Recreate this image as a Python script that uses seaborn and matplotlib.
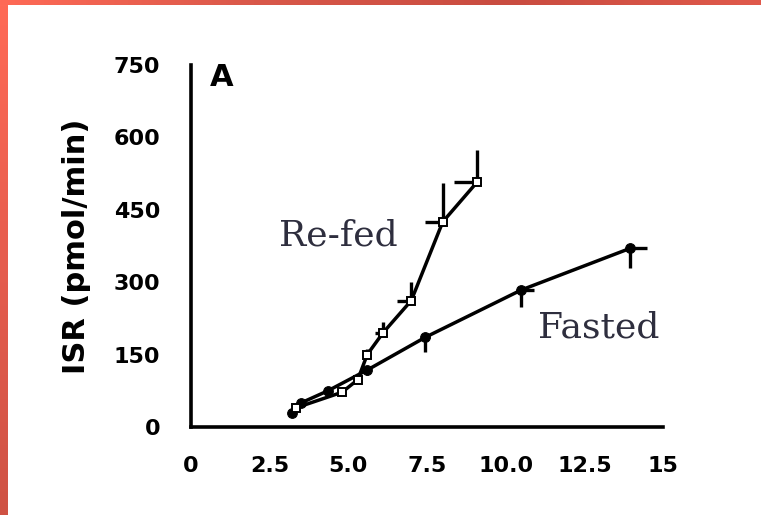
import numpy as np
import pandas as pd
import matplotlib
matplotlib.use("Agg")
import matplotlib.pyplot as plt
from matplotlib.colors import LinearSegmentedColormap
import seaborn as sns

# ---- data ----
refed_x = [3.35, 4.8, 5.3, 5.6, 6.1, 7.0, 8.0, 9.1]
refed_y = [40, 72, 98, 150, 195, 262, 425, 508]
refed_xerr_left = [0, 0, 0, 0.15, 0.25, 0.45, 0.55, 0.75]
refed_yerr_up = [0, 0, 0, 12, 22, 38, 80, 66]

fasted_x = [3.2, 3.5, 4.35, 5.6, 7.45, 10.5, 13.95]
fasted_y = [30, 50, 75, 118, 186, 284, 370]
fasted_xerr_right = [0, 0, 0, 0.1, 0.15, 0.4, 0.55]
fasted_yerr_down = [0, 0, 0, 10, 30, 35, 40]

x_ticks = [0, 2.5, 5.0, 7.5, 10.0, 12.5, 15]
x_ticklabels = ["0", "2.5", "5.0", "7.5", "10.0", "12.5", "15"]
y_ticks = [0, 150, 300, 450, 600, 750]
y_label = "ISR (pmol/min)"
panel_label = "A"
series_names = ["Re-fed", "Fasted"]

sns.set_style("white")
plt.rcParams["font.family"] = ["DejaVu Sans"]
plt.rcParams["text.color"] = "black"

W, H = 761, 515
fig = plt.figure(figsize=(W / 100, H / 100), dpi=100)
fig.patch.set_facecolor("white")

# decorative red frame (top and left)
cmap_top = LinearSegmentedColormap.from_list("t", ["#ff6a56", "#d9584a", "#c94c40", "#e0594b"])
cmap_left = LinearSegmentedColormap.from_list("l", ["#ff6a56", "#e65d4e", "#cf5244"])
ax_top = fig.add_axes([0, 1 - 5 / H, 1, 5 / H])
ax_top.imshow(np.linspace(0, 1, 256)[None, :], aspect="auto", cmap=cmap_top)
ax_top.set_axis_off()
ax_left = fig.add_axes([0, 0, 8 / W, 1 - 5 / H])
ax_left.imshow(np.linspace(0, 1, 256)[:, None], aspect="auto", cmap=cmap_left)
ax_left.set_axis_off()

# main axes
x0, x1 = 191, 663
y0, y1 = 427, 65
ax = fig.add_axes([x0 / W, (H - y0) / H, (x1 - x0) / W, (y0 - y1) / H])
ax.set_facecolor("none")

df_r = pd.DataFrame({"x": refed_x, "y": refed_y})
df_f = pd.DataFrame({"x": fasted_x, "y": fasted_y})

lw = 2.5
# error bars (one-sided)
ax.errorbar(refed_x, refed_y,
            xerr=[refed_xerr_left, [0] * len(refed_x)],
            yerr=[[0] * len(refed_y), refed_yerr_up],
            fmt="none", ecolor="black", elinewidth=2.4, capsize=0, zorder=2)
ax.errorbar(fasted_x, fasted_y,
            xerr=[[0] * len(fasted_x), fasted_xerr_right],
            yerr=[fasted_yerr_down, [0] * len(fasted_y)],
            fmt="none", ecolor="black", elinewidth=2.4, capsize=0, zorder=2)

sns.lineplot(data=df_f, x="x", y="y", ax=ax, color="black", linewidth=lw,
             marker="o", markersize=7, markerfacecolor="black",
             markeredgecolor="black", sort=False, zorder=3)
sns.lineplot(data=df_r, x="x", y="y", ax=ax, color="black", linewidth=lw,
             marker="s", markersize=6, markerfacecolor="white",
             markeredgecolor="black", markeredgewidth=1.4, sort=False, zorder=4)

ax.set_xlim(0, 15)
ax.set_ylim(0, 750)
ax.set_xticks(x_ticks)
ax.set_xticklabels(x_ticklabels)
ax.set_yticks(y_ticks)
ax.set_xlabel("")
ax.set_ylabel(y_label, fontsize=22, fontweight="bold", color="black")
ax.yaxis.set_label_coords(-0.212, 0.5)

for s in ["top", "right"]:
    ax.spines[s].set_visible(False)
for s in ["left", "bottom"]:
    ax.spines[s].set_linewidth(2.6)
    ax.spines[s].set_color("black")
    ax.spines[s].set_capstyle("projecting")

ax.tick_params(axis="y", direction="out", length=10, width=2.2, pad=12,
               labelsize=16, colors="black")
ax.tick_params(axis="x", direction="out", length=12, width=2.2, pad=9,
               labelsize=16, colors="black")
for lab in ax.get_xticklabels() + ax.get_yticklabels():
    lab.set_fontweight("bold")

ax.text(0.066, 0.965, panel_label, transform=ax.transAxes, fontsize=22,
        fontweight="bold", color="black", ha="center", va="center")

serif = ["DejaVu Serif"]
ax.text(279 / W, 1 - 245 / H, series_names[0], transform=fig.transFigure,
        family=serif, fontsize=26, color="#2e2e3e", ha="left", va="baseline")
ax.text(538 / W, 1 - 338 / H, series_names[1], transform=fig.transFigure,
        family=serif, fontsize=26, color="#2e2e3e", ha="left", va="baseline")

legend = ax.get_legend()
if legend is not None:
    legend.remove()

fig.savefig("out.png", dpi=100)
